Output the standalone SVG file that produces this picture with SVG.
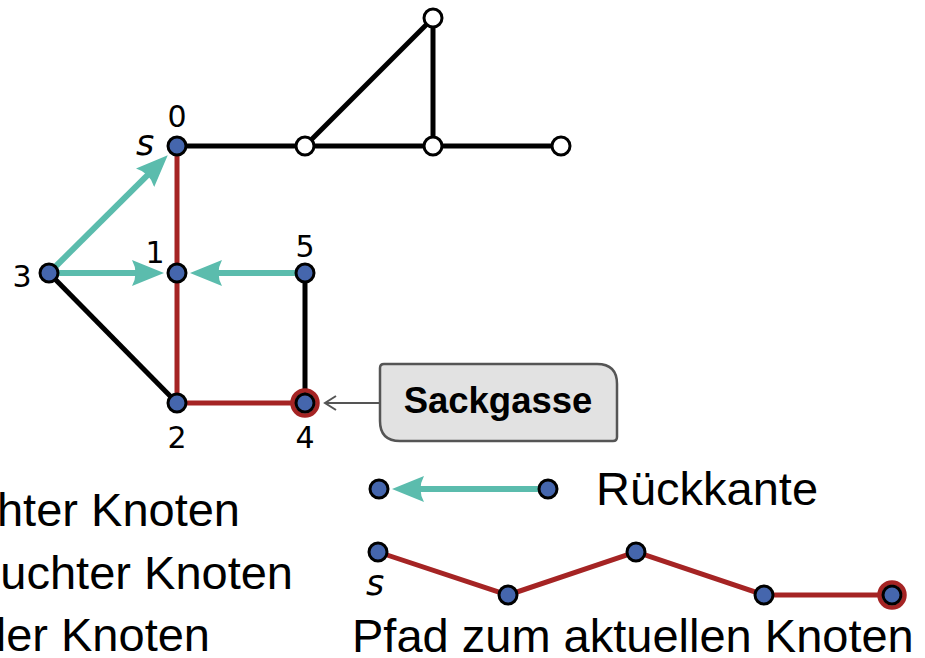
<svg xmlns="http://www.w3.org/2000/svg" width="925" height="658" viewBox="0 0 925 658">
<defs>
<style>
.e{stroke:#000;stroke-width:5;fill:none}
.r{stroke:#a52424;stroke-width:5;fill:none}
.t{stroke:#5bbcad;stroke-width:6;fill:none;marker-end:url(#ta)}
.n{fill:#4566ad;stroke:#000;stroke-width:3}
.w{fill:#fff;stroke:#000;stroke-width:3}
.ring{fill:none;stroke:#a52424;stroke-width:4.5}
.lbl{font-family:"DejaVu Sans",sans-serif;font-size:30px;fill:#000;text-anchor:middle}
.s{font-family:"DejaVu Sans",sans-serif;font-style:italic;font-size:35px;fill:#000;text-anchor:middle}
.big{font-family:"Liberation Sans",Arial,sans-serif;font-size:47px;fill:#000}
</style>
<marker id="ta" markerUnits="userSpaceOnUse" viewBox="0 0 32 26" markerWidth="32" markerHeight="26" refX="17" refY="13" orient="auto">
<path d="M0,0 L32,13 L0,26 Q7,13 0,0 Z" fill="#5bbcad"/>
</marker>
<marker id="ga" markerUnits="userSpaceOnUse" viewBox="0 0 14 16" markerWidth="14" markerHeight="16" refX="12" refY="8" orient="auto">
<path d="M1,1 L12,8 L1,15" fill="none" stroke="#555" stroke-width="2"/>
</marker>
</defs>
<g id="connectors">
<line class="e" x1="177" y1="146" x2="561" y2="146"/>
<line class="e" x1="305" y1="146" x2="433" y2="18"/>
<line class="e" x1="433" y1="146" x2="433" y2="18"/>
<line class="e" x1="49" y1="273" x2="177" y2="403"/>
<line class="e" x1="305" y1="273" x2="305" y2="403"/>
<line class="r" x1="177" y1="146" x2="177" y2="403"/>
<line class="r" x1="177" y1="403" x2="305" y2="403"/>
<line class="t" x1="49" y1="273" x2="157.1" y2="165.7"/>
<line class="t" x1="49" y1="273" x2="149" y2="273"/>
<line class="t" x1="305" y1="273" x2="205" y2="273"/>
<line x1="379" y1="403" x2="325" y2="403" stroke="#555" stroke-width="2" marker-end="url(#ga)"/>
<line class="t" x1="548" y1="489" x2="407" y2="489"/>
<polyline class="r" points="378,552 508,595 636,552 764,595 892,595"/>
</g>
<g id="node0"><circle class="n" cx="177" cy="146" r="9"/><text class="lbl" x="177" y="127">0</text><text class="s" x="145" y="155">s</text></g>
<g id="node1"><circle class="n" cx="177" cy="273" r="9"/><text class="lbl" x="155" y="263">1</text></g>
<g id="node2"><circle class="n" cx="177" cy="403" r="9"/><text class="lbl" x="177" y="448">2</text></g>
<g id="node3"><circle class="n" cx="49" cy="273" r="9"/><text class="lbl" x="22" y="287">3</text></g>
<g id="node4"><circle class="ring" cx="305" cy="403" r="12.5"/><circle class="n" cx="305" cy="403" r="9"/><text class="lbl" x="305" y="448">4</text></g>
<g id="node5"><circle class="n" cx="305" cy="273" r="9"/><text class="lbl" x="305" y="257">5</text></g>
<g id="w1"><circle class="w" cx="305" cy="146" r="9"/></g>
<g id="w2"><circle class="w" cx="433" cy="146" r="9"/></g>
<g id="w3"><circle class="w" cx="433" cy="18" r="9"/></g>
<g id="w4"><circle class="w" cx="561" cy="146" r="9"/></g>
<g id="callout">
<path d="M384,364 L597,364 Q617,364 617,384 L617,437 Q617,441 613,441 L400,441 Q380,441 380,421 L380,368 Q380,364 384,364 Z" fill="#e2e2e2" stroke="#555" stroke-width="2.5"/>
<text x="498" y="413" font-family="Liberation Sans,Arial,sans-serif" font-weight="bold" font-size="36.5" text-anchor="middle">Sackgasse</text>
</g>
<g id="legend-back">
<circle class="n" cx="379" cy="489" r="9"/>
<circle class="n" cx="548" cy="489" r="9"/>
<text class="big" x="596" y="505">Rückkante</text>
</g>
<g id="legend-path">
<circle class="n" cx="378" cy="552" r="9"/>
<circle class="n" cx="508" cy="595" r="9"/>
<circle class="n" cx="636" cy="552" r="9"/>
<circle class="n" cx="764" cy="595" r="9"/>
<circle class="ring" cx="892" cy="595" r="12.5"/>
<circle class="n" cx="892" cy="595" r="9"/>
<text class="s" x="375" y="595">s</text>
<text class="big" x="352" y="652">Pfad zum aktuellen Knoten</text>
</g>
<g id="legend-left">
<text class="big" x="240" y="526" text-anchor="end">hter Knoten</text>
<text class="big" x="293" y="589" text-anchor="end">uchter Knoten</text>
<text class="big" x="210" y="651" text-anchor="end">ler Knoten</text>
</g>
</svg>
